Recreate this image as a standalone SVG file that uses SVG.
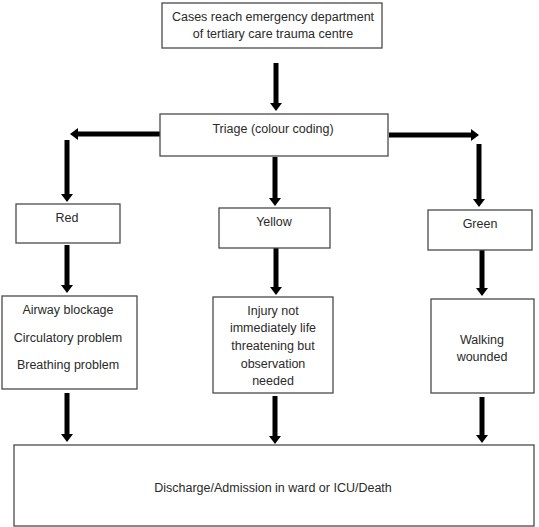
<svg xmlns="http://www.w3.org/2000/svg" width="539" height="527" viewBox="0 0 539 527">
<style>
.box{fill:#fff;stroke:#4a4a4a;stroke-width:1.3}
.t{font-family:"Liberation Sans",Arial,sans-serif;font-size:12.5px;fill:#2a2a2a;text-anchor:middle;dominant-baseline:central}
.c{stroke:#000;stroke-width:5;fill:none;marker-end:url(#ah)}
</style>
<defs>
<marker id="ah" viewBox="0 0 8 12" refX="0" refY="6" markerWidth="8" markerHeight="12" markerUnits="userSpaceOnUse" orient="auto">
<path d="M0,0 L8,6 L0,12 z" fill="#000"/>
</marker>
</defs>
<rect width="539" height="527" fill="#fff"/>
<g id="connectors">
<line class="c" x1="276" y1="63" x2="276" y2="103"/>
<line class="c" x1="160" y1="134" x2="78" y2="134"/>
<line class="c" x1="67" y1="140" x2="67" y2="194"/>
<line class="c" x1="275" y1="157" x2="275" y2="198"/>
<line class="c" x1="389" y1="135" x2="471" y2="135"/>
<line class="c" x1="479" y1="144" x2="479" y2="199"/>
<line class="c" x1="67" y1="245" x2="67" y2="285"/>
<line class="c" x1="276" y1="248" x2="276" y2="287"/>
<line class="c" x1="482" y1="250" x2="482" y2="288"/>
<line class="c" x1="67" y1="393" x2="67" y2="434"/>
<line class="c" x1="275" y1="396" x2="275" y2="436"/>
<line class="c" x1="482" y1="397" x2="482" y2="435"/>
</g>
<g id="start">
<rect class="box" x="162" y="3" width="220" height="45"/>
<text class="t" x="273" y="17">Cases reach emergency department</text>
<text class="t" x="273" y="34">of tertiary care trauma centre</text>
</g>
<g id="triage">
<rect class="box" x="160" y="114" width="228" height="42"/>
<text class="t" x="273" y="129">Triage (colour coding)</text>
</g>
<g id="red">
<rect class="box" x="16" y="204" width="104" height="39"/>
<text class="t" x="67" y="218">Red</text>
</g>
<g id="yellow">
<rect class="box" x="219" y="208" width="111" height="40"/>
<text class="t" x="274" y="222">Yellow</text>
</g>
<g id="green">
<rect class="box" x="428" y="210" width="104" height="40"/>
<text class="t" x="480" y="224">Green</text>
</g>
<g id="red-detail">
<rect class="box" x="2" y="296" width="135" height="93"/>
<text class="t" x="68" y="310">Airway blockage</text>
<text class="t" x="68" y="338">Circulatory problem</text>
<text class="t" x="68" y="365">Breathing problem</text>
</g>
<g id="yellow-detail">
<rect class="box" x="213" y="297" width="120" height="96"/>
<text class="t" x="273" y="311">Injury not</text>
<text class="t" x="273" y="328">immediately life</text>
<text class="t" x="273" y="346">threatening but</text>
<text class="t" x="273" y="364">observation</text>
<text class="t" x="273" y="381">needed</text>
</g>
<g id="green-detail">
<rect class="box" x="431" y="299" width="103" height="94"/>
<text class="t" x="482" y="340">Walking</text>
<text class="t" x="482" y="357">wounded</text>
</g>
<g id="outcome">
<rect class="box" x="14" y="445" width="520" height="81"/>
<text class="t" x="273" y="488">Discharge/Admission in ward or ICU/Death</text>
</g>
</svg>
